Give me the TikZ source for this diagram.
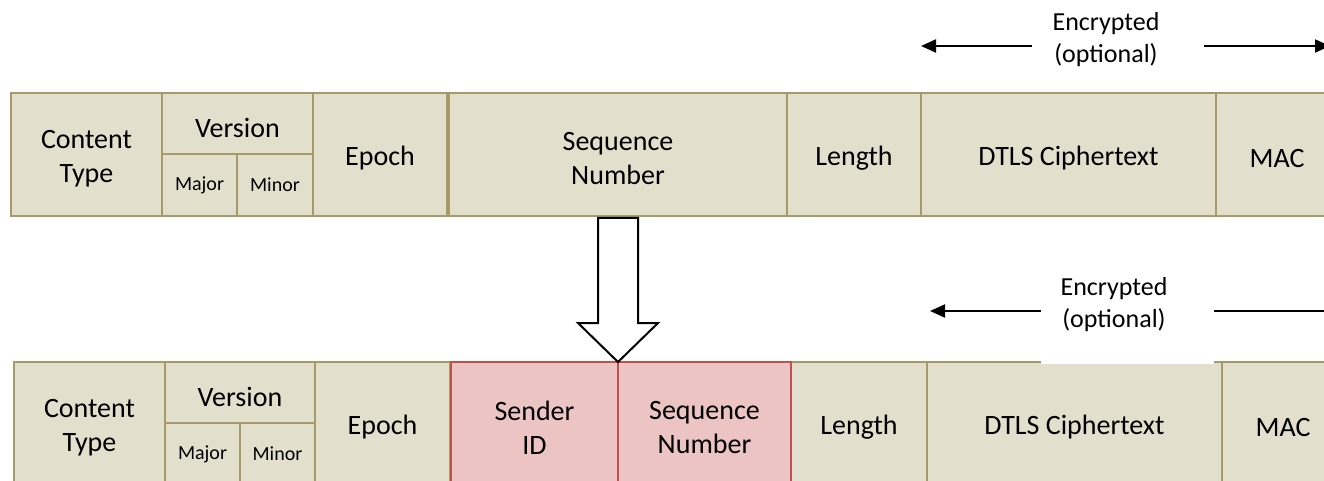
\documentclass[tikz,border=0pt]{standalone}
\usepackage{fontspec}
\setmainfont{Carlito}
\usetikzlibrary{arrows.meta}
\definecolor{cellfill}{HTML}{E2DFCC}
\definecolor{celldraw}{HTML}{A69B68}
\definecolor{newfill}{HTML}{ECC4C3}
\definecolor{newdraw}{HTML}{C0504D}
\tikzset{
  cell/.style={draw=celldraw, fill=cellfill, line width=1pt},
  newcell/.style={draw=newdraw, fill=newfill, line width=1pt},
  lbl/.style={align=center, font=\fontsize{14}{17}\selectfont, inner sep=0pt, yshift=-2pt},
  small/.style={align=center, font=\fontsize{10}{12}\selectfont, inner sep=0pt},
  enc/.style={align=center, font=\fontsize{13}{16}\selectfont, inner sep=0pt},
  span/.style={line width=1pt, -{Triangle[length=7.5pt,width=6.5pt]}},
  bigarrow/.style={draw=black, fill=white, line width=1pt, line join=miter}
}
\begin{document}
\begin{tikzpicture}[x=0.5pt, y=-0.5pt]
\useasboundingbox (0,0) rectangle (1324,481);
\clip (0,0) rectangle (1324,481);

% ---------- record header, DTLS 1.2 ----------
\draw[cell] (11,93) rectangle (162,216) node[midway, lbl] (ctA) {Content\\Type};
\draw[cell] (162,93) rectangle (313,154) node[midway, lbl] (verA) {Version};
\draw[cell] (162,154) rectangle (237,216) node[midway, small] (majA) {Major};
\draw[cell] (237,154) rectangle (313,216) node[midway, small] (minA) {Minor};
\draw[cell] (313,93) rectangle (447,216) node[midway, lbl] (epA) {Epoch};
\draw[cell] (449,93) rectangle (787,216) node[midway, lbl] (seqA) {Sequence\\Number};
\draw[cell] (787,93) rectangle (921,216) node[midway, lbl] (lenA) {Length};
\draw[cell] (921,93) rectangle (1216,216) node[midway, lbl] (ctxA) {DTLS Ciphertext};
\draw[cell] (1216,93) rectangle (1338,216) node[midway, lbl] (macA) {MAC};

% encrypted span above
\node[enc] (encA) at (1106,40) {Encrypted\\(optional)};
\coordinate (encAl) at (1032,46);
\coordinate (encAr) at (1204,46);
\coordinate (encAL) at (921,46);
\coordinate (encAR) at (1330,46);
\draw[span] (encAl) -- (encAL);
\draw[span] (encAr) -- (encAR);

% ---------- record header with sender ID ----------
\draw[cell] (14,362) rectangle (165,485) node[midway, lbl] (ctB) {Content\\Type};
\draw[cell] (165,362) rectangle (315,423) node[midway, lbl] (verB) {Version};
\draw[cell] (165,423) rectangle (240,485) node[midway, small] (majB) {Major};
\draw[cell] (240,423) rectangle (315,485) node[midway, small] (minB) {Minor};
\draw[cell] (315,362) rectangle (450,485) node[midway, lbl] (epB) {Epoch};
\draw[cell] (791,362) rectangle (927,485) node[midway, lbl] (lenB) {Length};
\draw[cell] (927,362) rectangle (1222,485) node[midway, lbl] (ctxB) {DTLS Ciphertext};
\draw[cell] (1222,362) rectangle (1344,485) node[midway, lbl] (macB) {MAC};
\draw[newcell] (451,362) rectangle (618,485) node[midway, lbl] (sid) {Sender\\ID};
\draw[newcell] (618,362) rectangle (791,485) node[midway, lbl] (seqB) {Sequence\\Number};

% encrypted span above, its label box hides part of the top border
\fill[white] (1041,268) rectangle (1214,363.5);
\node[enc] (encB) at (1114,305) {Encrypted\\(optional)};
\coordinate (encBl) at (1041,311);
\coordinate (encBr) at (1214,311);
\coordinate (encBL) at (930,311);
\coordinate (encBR) at (1330,311);
\draw[span] (encBl) -- (encBL);
\draw[line width=1pt] (encBr) -- (encBR);

% ---------- hollow arrow between the two layouts ----------
\draw[bigarrow] (598,218) -- (638,218) -- (638,323) -- (658,323)
  -- (618,362) -- (578,323) -- (598,323) -- cycle;
\end{tikzpicture}
\end{document}
